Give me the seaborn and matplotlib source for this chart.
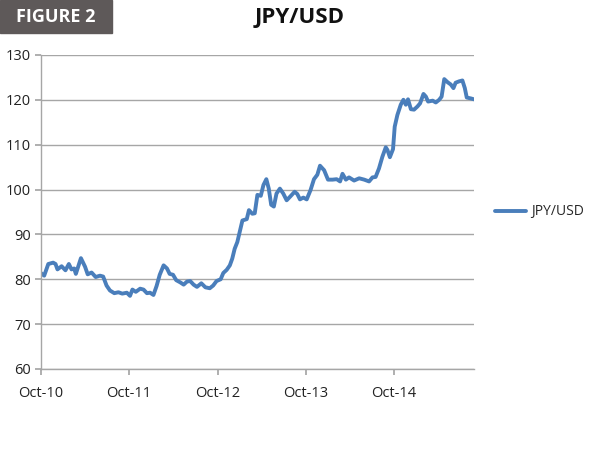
import pandas as pd
import seaborn as sns
import matplotlib.pyplot as plt
from matplotlib.patches import Rectangle

# JPY/USD rate
dates = [
    "2010-10-01", "2010-10-15", "2010-11-01", "2010-11-21", "2010-12-01", "2010-12-09",
    "2010-12-26", "2011-01-11", "2011-01-25", "2011-02-05", "2011-02-16", "2011-02-23",
    "2011-03-16", "2011-04-02", "2011-04-13", "2011-04-29", "2011-05-16", "2011-06-03",
    "2011-06-16", "2011-06-30", "2011-07-14", "2011-08-01", "2011-08-18", "2011-09-03",
    "2011-09-22", "2011-10-05", "2011-10-15", "2011-10-29", "2011-11-16", "2011-11-30",
    "2011-12-14", "2011-12-27", "2012-01-10", "2012-01-23", "2012-02-05", "2012-02-21",
    "2012-03-06", "2012-03-17", "2012-03-31", "2012-04-13", "2012-04-30", "2012-05-14",
    "2012-05-28", "2012-06-10", "2012-06-24", "2012-07-08", "2012-07-26", "2012-08-12",
    "2012-08-30", "2012-09-13", "2012-09-27", "2012-10-14", "2012-10-25", "2012-11-08",
    "2012-11-21", "2012-12-01", "2012-12-11", "2012-12-22", "2012-12-29", "2013-01-12",
    "2013-01-30", "2013-02-08", "2013-02-22", "2013-03-04", "2013-03-15", "2013-03-29",
    "2013-04-09", "2013-04-21", "2013-05-01", "2013-05-11", "2013-05-22", "2013-06-02",
    "2013-06-16", "2013-06-30", "2013-07-14", "2013-07-30", "2013-08-16", "2013-08-27",
    "2013-09-07", "2013-09-21", "2013-10-05", "2013-10-21", "2013-11-04", "2013-11-18",
    "2013-11-29", "2013-12-16", "2014-01-01", "2014-01-20", "2014-02-06", "2014-02-20",
    "2014-03-02", "2014-03-16", "2014-03-29", "2014-04-19", "2014-05-10", "2014-05-31",
    "2014-06-20", "2014-07-04", "2014-07-17", "2014-07-31", "2014-08-14", "2014-08-28",
    "2014-09-04", "2014-09-14", "2014-09-27", "2014-10-04", "2014-10-15", "2014-10-29",
    "2014-11-09", "2014-11-19", "2014-11-28", "2014-12-10", "2014-12-23", "2015-01-06",
    "2015-01-17", "2015-01-31", "2015-02-10", "2015-02-19", "2015-03-10", "2015-03-23",
    "2015-04-06", "2015-04-16", "2015-04-27", "2015-05-11", "2015-05-24", "2015-06-04",
    "2015-06-13", "2015-06-27", "2015-07-11", "2015-07-21", "2015-07-29", "2015-08-15",
    "2015-08-28",
]
jpy_usd = [
    81.4, 80.8, 83.4, 83.7, 83.4, 82.2,
    82.9, 82.0, 83.4, 82.2, 82.4, 81.2,
    84.7, 82.8, 81.1, 81.5, 80.5, 80.8,
    80.6, 78.6, 77.5, 76.9, 77.1, 76.8,
    77.0, 76.3, 77.7, 77.2, 77.9, 77.7,
    76.9, 77.0, 76.5, 78.5, 81.0, 83.1,
    82.4, 81.2, 81.0, 79.8, 79.3, 78.8,
    79.5, 79.6, 78.8, 78.3, 79.1, 78.2,
    78.0, 78.6, 79.6, 80.0, 81.4, 82.1,
    83.1, 84.6, 86.8, 88.3, 89.9, 93.1,
    93.4, 95.4, 94.6, 94.7, 98.8, 98.6,
    101.0, 102.3, 100.2, 96.6, 96.2, 99.1,
    100.2, 99.1, 97.6, 98.5, 99.5, 99.0,
    97.8, 98.2, 97.8, 99.9, 102.3, 103.3,
    105.3, 104.3, 102.2, 102.2, 102.3, 101.8,
    103.5, 102.2, 102.7, 102.0, 102.5, 102.2,
    101.8, 102.7, 102.8, 104.7, 107.3, 109.4,
    108.8, 107.2, 109.0, 114.0, 116.6, 118.9,
    120.0, 118.9, 120.1, 117.9, 117.8, 118.5,
    119.2, 121.3, 120.7, 119.6, 119.8, 119.4,
    120.0, 120.7, 124.6, 123.9, 123.4, 122.6,
    123.8, 124.1, 124.3, 122.6, 120.5, 120.3,
    120.1,
]
tick_dates = ["2010-10-01", "2011-10-01", "2012-10-01", "2013-10-01", "2014-10-01"]
tick_labels = ["Oct-10", "Oct-11", "Oct-12", "Oct-13", "Oct-14"]
y_ticks = [60, 70, 80, 90, 100, 110, 120, 130]

df = pd.DataFrame({"date": pd.to_datetime(dates), "JPY/USD": jpy_usd})

sns.set_theme(style="white")
plt.rcParams["font.family"] = ["Open Sans", "DejaVu Sans"]

fig = plt.figure(figsize=(6, 4.5), dpi=100)
ax = fig.add_axes([0.068, 0.18, 0.722, 0.698])

sns.lineplot(data=df, x="date", y="JPY/USD", ax=ax, color="#4a7ebb",
             linewidth=2.8, label="JPY/USD")

ax.set_ylim(60, 130)
ax.set_yticks(y_ticks)
ax.set_xlim(df["date"].iloc[0], df["date"].iloc[-1])
ax.set_xticks(pd.to_datetime(tick_dates))
ax.set_xticklabels(tick_labels)
ax.set_xlabel("")
ax.set_ylabel("")
ax.grid(axis="y", color="#a6a6a6", linewidth=1)
ax.set_axisbelow(True)
for side in ["top", "right"]:
    ax.spines[side].set_visible(False)
for side in ["left", "bottom"]:
    ax.spines[side].set_color("#a6a6a6")
    ax.spines[side].set_linewidth(1)
ax.tick_params(axis="both", which="both", length=4, color="#a6a6a6",
               labelsize=10.5, labelcolor="#222222", direction="out",
               bottom=True, left=True)
ax.tick_params(axis="y", pad=3)
ax.tick_params(axis="x", pad=8)

leg = ax.legend(loc="center left", bbox_to_anchor=(1.02, 0.5), frameon=False,
                fontsize=10, handlelength=2.2, handletextpad=0.4)

# header: figure label box and title
fig.patches.append(Rectangle((0, 1 - 33 / 450), 112 / 600, 33 / 450,
                             transform=fig.transFigure, color="#5e5959",
                             zorder=0))
fig.text(56 / 600, 1 - 17 / 450, "FIGURE 2", color="white", fontsize=13,
         fontweight="bold", ha="center", va="center", fontstretch="condensed")
fig.text(300 / 600, 1 - 18 / 450, "JPY/USD", color="#111111", fontsize=16,
         fontweight="bold", ha="center", va="center")

plt.savefig("out.png", dpi=100)
plt.close()
